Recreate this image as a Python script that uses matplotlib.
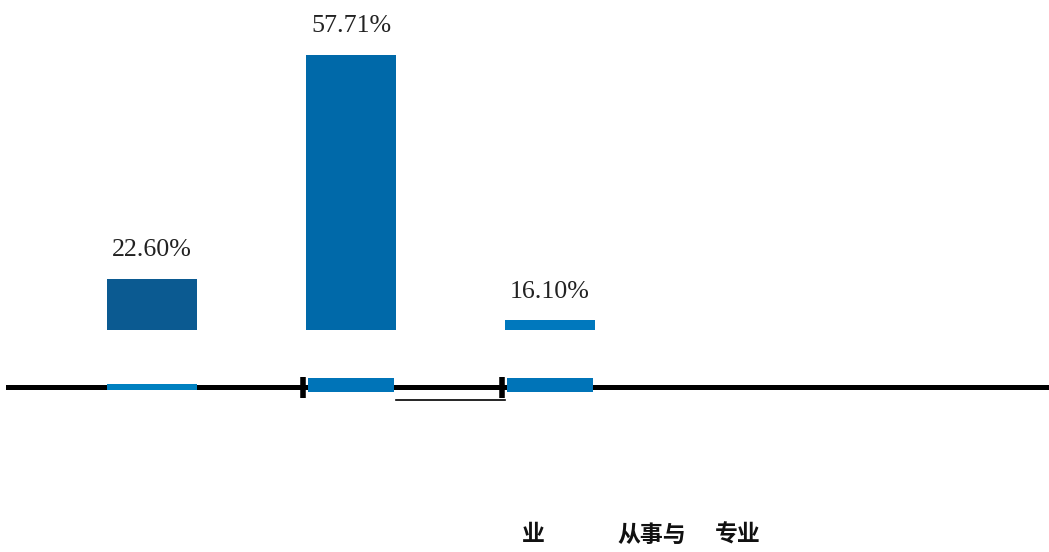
import matplotlib
matplotlib.use("Agg")
import matplotlib.pyplot as plt
import numpy as np

# Share of respondents per category (%)
categories = ["A", "B", "C", "D", "E"]
shares = [22.60, 57.71, 16.10, 2.10, 1.49]
bar_colors = ["#0B5A91", "#0069A9", "#0078BD", "#0078BD", "#0078BD"]
value_labels = ["22.60%", "57.71%", "16.10%", "", ""]
footer_parts = ["业", "从事与", "专业"]

W, H = 1049, 552
fig = plt.figure(figsize=(W / 100, H / 100), dpi=100)

x = np.arange(len(categories))
xlim = (-0.764, -0.764 + W / 199.0)
width = 0.452

# Main bar panel
ax = fig.add_axes([0, (H - 330) / H, 1, 330 / H])
ax.bar(x, shares, width=width, color=bar_colors, zorder=2)
ax.set_xlim(*xlim)
ax.set_ylim(14.6, 66.3)
ax.axis("off")
for xi, v, lab in zip(x, shares, value_labels):
    if lab:
        ax.annotate(lab, (xi, v), xytext=(0, 16.5), textcoords="offset points",
                    ha="center", va="baseline", fontsize=18.7,
                    family="Liberation Serif", color="#222222")

# Baseline strip with bar stubs
ax2 = fig.add_axes([0, (H - 392) / H, 1, 14 / H])
ax2.set_xlim(*xlim)
ax2.set_ylim(0, 1)
ax2.axis("off")
ax2.axhline(0.357, xmin=8 / W, xmax=1.0, color="black", lw=3.6, zorder=1,
            clip_on=False)
ax2.bar(x[1:3], shares[1:3], width=width * 0.95, color="#0074B8", zorder=2)
for xi in x[1:3]:
    ax2.vlines(xi - width / 2 - 0.015, -0.4, 1.1, color="black", lw=4,
               clip_on=False, zorder=3)
ax2.plot([x[1] + width / 2, x[2] - width / 2], [-0.55, -0.55], color="black",
         lw=1.2, clip_on=False)

# Thin stub of the first bar lying on the baseline
ax3 = fig.add_axes([0, (H - 390) / H, 1, 6 / H])
ax3.set_xlim(*xlim)
ax3.set_ylim(0, 1)
ax3.axis("off")
ax3.bar(x[0], shares[0], width=width, color="#0080C0", zorder=2)

# Footer text
for part, px in zip(footer_parts, [533, 652, 738]):
    fig.text(px / W, 1 - 535 / H, part, ha="center", va="center", fontsize=16.5,
             family=["Noto Sans CJK SC", "DejaVu Sans"], fontweight="bold",
             color="#111111")

fig.savefig("out.png", dpi=100)
